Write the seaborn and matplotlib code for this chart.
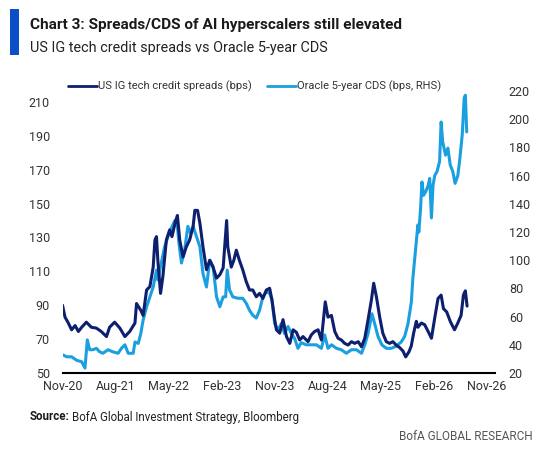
import matplotlib
matplotlib.use("Agg")
import matplotlib.pyplot as plt
from matplotlib import font_manager
from matplotlib.lines import Line2D
from matplotlib.patches import Rectangle
import seaborn as sns
import pandas as pd

# ---------------- data ----------------
ig_dates = [
    "2020-11-01", "2020-11-14", "2020-12-01", "2020-12-18", "2021-01-05", "2021-01-22",
    "2021-02-08", "2021-03-04", "2021-03-30", "2021-04-25", "2021-05-20", "2021-06-16",
    "2021-07-02", "2021-07-28", "2021-08-24", "2021-09-19", "2021-10-14", "2021-11-10",
    "2021-11-18", "2021-12-10", "2021-12-22", "2022-01-09", "2022-01-26", "2022-02-12",
    "2022-02-21", "2022-03-01", "2022-03-08", "2022-03-22", "2022-04-03", "2022-04-21",
    "2022-05-08", "2022-05-20", "2022-06-07", "2022-06-17", "2022-06-29", "2022-07-16",
    "2022-08-02", "2022-08-19", "2022-09-06", "2022-09-15", "2022-09-29", "2022-10-11",
    "2022-10-27", "2022-11-14", "2022-12-01", "2022-12-18", "2023-01-05", "2023-01-22",
    "2023-02-08", "2023-02-26", "2023-03-04", "2023-03-22", "2023-04-04", "2023-04-17",
    "2023-05-03", "2023-05-20", "2023-06-07", "2023-06-24", "2023-07-11", "2023-07-29",
    "2023-08-15", "2023-09-01", "2023-09-19", "2023-10-06", "2023-10-18", "2023-11-01",
    "2023-11-10", "2023-11-27", "2023-12-14", "2024-01-01", "2024-01-18", "2024-02-04",
    "2024-02-21", "2024-03-09", "2024-03-26", "2024-04-04", "2024-04-21", "2024-05-08",
    "2024-05-25", "2024-06-12", "2024-06-29", "2024-07-19", "2024-08-02", "2024-08-20",
    "2024-09-06", "2024-09-23", "2024-10-10", "2024-10-27", "2024-11-14", "2024-12-01",
    "2024-12-18", "2025-01-05", "2025-01-22", "2025-02-08", "2025-02-25", "2025-03-14",
    "2025-03-26", "2025-04-09", "2025-04-26", "2025-05-12", "2025-05-30", "2025-06-16",
    "2025-07-03", "2025-07-20", "2025-08-07", "2025-08-24", "2025-09-07", "2025-09-24",
    "2025-10-06", "2025-10-18", "2025-11-01", "2025-11-09", "2025-11-27", "2025-12-14",
    "2026-01-01", "2026-01-18", "2026-02-04", "2026-02-21", "2026-03-09", "2026-03-21",
    "2026-04-07", "2026-04-25", "2026-05-17", "2026-06-03", "2026-06-20", "2026-07-02",
    "2026-07-12", "2026-07-21",
]
ig_spread = [
    90, 83, 79.5, 75.5, 78, 74.5,
    77, 80, 77, 76.5, 74.5, 71.5,
    77, 80, 76.5, 71.5, 74.5, 79.5,
    91, 87, 84, 99, 101, 112.5,
    128.5, 130.5, 116.5, 97, 107, 128.5,
    134.5, 130.5, 139.5, 143, 128.5, 118.5,
    124.5, 128.5, 136.5, 146, 146, 138.5,
    124.5, 111, 116.5, 112.5, 106, 108,
    112, 140, 124.5, 112.5, 116.5, 122.5,
    116.5, 111, 104, 99, 99, 95,
    97, 94, 99, 100, 93, 81.5,
    75.5, 73.5, 81.5, 71.5, 67.5, 75.5,
    74, 69.5, 71.5, 70.5, 68.5, 72.5,
    74.5, 75.5, 69.5, 92, 83, 84,
    74.5, 70.5, 69.5, 67.5, 66.5, 68.5,
    67.5, 68.5, 65.5, 70.5, 81.5, 93,
    103, 95, 83, 73.5, 68.5, 67.5,
    68.5, 66.5, 65, 63, 59.5, 62.5,
    66, 73.5, 80.5, 77, 79.5, 78.5,
    74.5, 70.5, 82.5, 94, 96, 88,
    86, 80.5, 75.5, 79.5, 84, 96,
    98.5, 89.5,
]

orcl_dates = [
    "2020-11-01", "2020-11-22", "2020-12-18", "2021-01-13", "2021-02-08", "2021-02-25",
    "2021-03-09", "2021-03-21", "2021-04-07", "2021-04-25", "2021-05-12", "2021-05-29",
    "2021-06-24", "2021-07-19", "2021-08-15", "2021-09-01", "2021-09-19", "2021-10-06",
    "2021-11-01", "2021-11-10", "2021-11-27", "2021-12-10", "2021-12-22", "2022-01-09",
    "2022-01-26", "2022-02-12", "2022-03-01", "2022-03-08", "2022-03-26", "2022-04-12",
    "2022-04-29", "2022-05-16", "2022-06-03", "2022-06-17", "2022-06-25", "2022-07-08",
    "2022-07-24", "2022-08-10", "2022-08-24", "2022-09-06", "2022-09-24", "2022-10-11",
    "2022-10-27", "2022-11-14", "2022-12-01", "2022-12-18", "2023-01-05", "2023-01-22",
    "2023-02-08", "2023-02-21", "2023-03-01", "2023-03-13", "2023-03-30", "2023-04-25",
    "2023-05-20", "2023-06-07", "2023-06-24", "2023-07-11", "2023-07-29", "2023-08-15",
    "2023-09-01", "2023-09-19", "2023-10-06", "2023-10-18", "2023-11-01", "2023-11-18",
    "2023-12-05", "2023-12-22", "2024-01-09", "2024-01-26", "2024-02-12", "2024-02-29",
    "2024-03-17", "2024-04-12", "2024-05-08", "2024-06-03", "2024-06-29", "2024-07-16",
    "2024-08-02", "2024-08-20", "2024-09-15", "2024-10-10", "2024-11-05", "2024-12-01",
    "2024-12-27", "2025-01-22", "2025-02-08", "2025-02-25", "2025-03-17", "2025-03-31",
    "2025-04-17", "2025-05-07", "2025-05-30", "2025-06-25", "2025-07-20", "2025-08-15",
    "2025-09-02", "2025-09-19", "2025-10-06", "2025-10-14", "2025-10-23", "2025-11-01",
    "2025-11-09", "2025-11-14", "2025-11-23", "2025-11-30", "2025-12-08", "2025-12-19",
    "2026-01-01", "2026-01-09", "2026-01-18", "2026-01-26", "2026-02-04", "2026-02-16",
    "2026-03-01", "2026-03-09", "2026-03-17", "2026-04-01", "2026-04-13", "2026-04-25",
    "2026-05-08", "2026-05-20", "2026-06-03", "2026-06-12", "2026-06-26", "2026-07-06",
    "2026-07-12", "2026-07-19",
]
orcl_cds = [
    33, 31.5, 31.5, 29, 28, 23.5,
    43.5, 36.5, 36.5, 37.5, 35, 34,
    36.5, 35, 34, 37.5, 40, 34,
    34, 42, 41, 48, 57.5, 67,
    74, 81, 93, 86, 98, 109.5,
    116.5, 122.5, 128, 124, 112, 98,
    107, 124, 119, 124, 116.5, 109.5,
    90.5, 81, 100, 95.5, 74, 67,
    74, 74, 93, 79, 74, 73,
    73, 69.5, 64.5, 61, 59, 64.5,
    74, 77.5, 76.5, 72, 55, 50.5,
    55, 48, 53, 48, 44.5, 37.5,
    41.5, 40, 40, 40, 37.5, 47,
    37.5, 40, 37.5, 36.5, 34, 36.5,
    36.5, 34, 40, 48, 62, 55,
    46, 40, 37.5, 37.5, 39, 42,
    46, 55, 70, 87, 100, 113,
    125, 120, 137, 155.5, 146, 148.5,
    153, 158, 130, 153, 160, 163,
    170, 198, 184, 174.5, 179.5, 167.5,
    163, 154.5, 160, 170, 189, 215,
    217, 191,
]

x_tick_labels = ["Nov-20", "Aug-21", "May-22", "Feb-23", "Nov-23",
                 "Aug-24", "May-25", "Feb-26", "Nov-26"]
left_ticks = [50, 70, 90, 110, 130, 150, 170, 190, 210]
right_ticks = [20, 40, 60, 80, 100, 120, 140, 160, 180, 200, 220]

series_names = ["US IG tech credit spreads (bps)", "Oracle 5-year CDS (bps, RHS)"]

# ---------------- style ----------------
DARK = "#0d1f6e"
LIGHT = "#1a9fe0"
BAR = "#0a4fc8"
TXT = "#333333"

sns.set_theme(style="white")
avail = {f.name for f in font_manager.fontManager.ttflist}
narrow = "Liberation Sans Narrow" if "Liberation Sans Narrow" in avail else "Roboto"
plt.rcParams["font.family"] = [narrow, "DejaVu Sans"]

fig = plt.figure(figsize=(5.43, 4.57), dpi=100)
W, H = 543, 457

ax = fig.add_axes([62.5 / W, 1 - 373 / H, (495 - 62.5) / W, (373 - 91) / H])
ax2 = ax.twinx()

df_ig = pd.DataFrame({"date": pd.to_datetime(ig_dates), "value": ig_spread})
df_or = pd.DataFrame({"date": pd.to_datetime(orcl_dates), "value": orcl_cds})

sns.lineplot(data=df_ig, x="date", y="value", ax=ax, color=DARK, lw=2.2, zorder=3)
sns.lineplot(data=df_or, x="date", y="value", ax=ax2, color=LIGHT, lw=2.2, zorder=2)
ax.set_zorder(ax2.get_zorder() + 1)
ax.patch.set_visible(False)

ax.set_ylim(50, 50 + (373 - 91) / 1.694)
ax2.set_ylim(20, 220)
ax.set_yticks(left_ticks)
ax2.set_yticks(right_ticks)

tick_dates = pd.date_range("2020-11-01", periods=len(x_tick_labels), freq="9MS")
ax.set_xlim(pd.Timestamp("2020-11-01"), pd.Timestamp("2026-12-12"))
ax.set_xticks(tick_dates)
ax.set_xticklabels(x_tick_labels)

for a in (ax, ax2):
    a.set_xlabel("")
    a.set_ylabel("")
    a.grid(False)
    for s in a.spines.values():
        s.set_visible(False)
    a.tick_params(length=0, labelsize=9, colors=TXT)
ax.spines["bottom"].set_visible(True)
ax.spines["bottom"].set_color("black")
ax.spines["bottom"].set_linewidth(1.5)
ax.tick_params(axis="y", pad=9)
ax.tick_params(axis="x", pad=5)
ax2.tick_params(axis="y", pad=10)

# legend
handles = [Line2D([], [], color=DARK, lw=2), Line2D([], [], color=LIGHT, lw=2)]
fig.legend(handles, series_names, loc="center left", bbox_to_anchor=(68 / W, 1 - 86.5 / H),
           ncol=2, frameon=False, fontsize=8, handlelength=2.6, handletextpad=0.1,
           columnspacing=1.4, labelcolor=TXT, borderaxespad=0, borderpad=0)

# header
fig.patches.append(Rectangle((10 / W, 1 - 55 / H), 9 / W, 46 / H, transform=fig.transFigure,
                             facecolor=BAR, edgecolor="none"))
fig.text(30 / W, 1 - 25 / H, "Chart 3: Spreads/CDS of AI hyperscalers still elevated",
         fontsize=11.1, fontweight="bold", color="#1a1a1a", va="center", ha="left")
fig.text(30 / W, 1 - 48 / H, "US IG tech credit spreads vs Oracle 5-year CDS",
         fontsize=10.4, color="#222222", va="center", ha="left")

# footer
src = fig.text(30 / W, 1 - 417 / H, "Source:", fontsize=8.3, fontweight="bold",
               color="#1a1a1a", va="center", ha="left")
fig.canvas.draw()
bb = src.get_window_extent()
fig.text(bb.x1 / W + 2.5 / W, 1 - 417 / H, "BofA Global Investment Strategy, Bloomberg",
         fontsize=8.3, color="#222222", va="center", ha="left")
fig.text(533 / W, 1 - 437 / H, "BofA GLOBAL RESEARCH", fontsize=8.5, color="#555555",
         va="center", ha="right")

fig.savefig("out.png", dpi=100, facecolor="white")
